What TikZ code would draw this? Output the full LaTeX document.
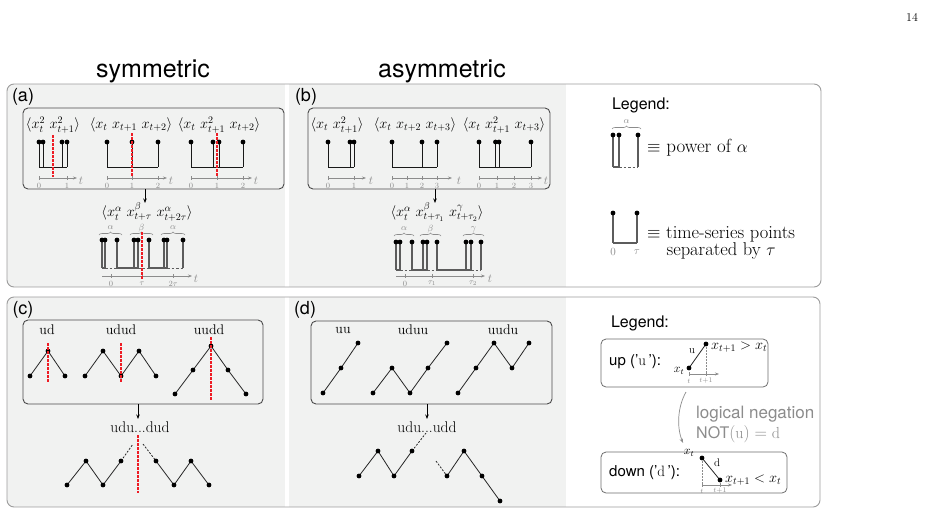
\documentclass[tikz,border=0pt]{standalone}
\usepackage{fontspec}
\setsansfont{TeX Gyre Heros}
\usetikzlibrary{decorations.pathreplacing,arrows.meta}
\definecolor{panelgrey}{HTML}{F1F2F1}
\definecolor{bordergrey}{HTML}{9C9C9C}
\definecolor{axgrey}{HTML}{8C8C8C}
\definecolor{boxdark}{HTML}{4A4A4A}
\definecolor{stkgrey}{HTML}{5C5C5C}
\definecolor{reddash}{HTML}{EE1C24}
\newcommand\fsz[1]{\fontsize{#1}{#1}\selectfont}
\newcommand\sticks[4][stk]{\foreach \sx in {#2} {\draw[#1] (\sx,#3) -- (\sx,#4); \fill (\sx,#3) circle (2.4pt);}}
\newcommand\taxis[5]{%
  \draw[ax] (#1,#3) -- (#2,#3);
  \foreach \tx/\tlab in {#4} {\draw[tmark] (\tx,#3-2) -- (\tx,#3+2); \node[tk] at (\tx,#3+7.5) {$\tlab$};}
  \node[tl] at (#5,#3+2.5) {$t$};}
\tikzset{
 stk/.style={line width=0.9pt, black!90},
 gstk/.style={line width=1.1pt, stkgrey},
 redl/.style={reddash, line width=1.2pt, dash pattern=on 2.5pt off 1.5pt},
 ax/.style={axgrey, line width=0.7pt, -{Stealth[length=4pt,width=3pt]}},
 tmark/.style={axgrey, line width=0.6pt},
 tk/.style={font=\fsz{8}, text=axgrey, inner sep=0pt},
 tl/.style={font=\fsz{12}, text=axgrey, inner sep=0pt},
 ibox/.style={draw=boxdark, line width=0.9pt, rounded corners=5pt},
 zz/.style={line width=0.8pt, black!85},
 zzd/.style={line width=0.8pt, black!85, dash pattern=on 2pt off 1.5pt},
 basedash/.style={line width=0.9pt, stkgrey, dash pattern=on 2.5pt off 2pt},
 brc/.style={decorate, decoration={brace, amplitude=3pt}, axgrey, line width=0.6pt},
 blab/.style={font=\fsz{9}, text=axgrey, inner sep=0pt},
 form/.style={font=\fsz{14}, inner sep=0pt},
 plab/.style={font=\sffamily\fsz{18}, inner sep=0pt},
 lgd/.style={font=\sffamily\fsz{16}, inner sep=0pt},
 arr/.style={line width=0.7pt, -{Stealth[length=4.5pt,width=3.5pt]}},
 wrd/.style={font=\fsz{14}, inner sep=0pt},
 ldot/.style={circle, fill=black, inner sep=0pt, minimum size=4.8pt},
}
\begin{document}
\begin{tikzpicture}[x=1pt,y=-1pt]
\useasboundingbox (0,0) rectangle (929,512);
\fill[white] (0,0) rectangle (929,512);

% page number and titles
\node[font=\fsz{12}] (pg) at (912,17) {14};
\node[font=\sffamily\fsz{25}] (tsym) at (153,71) {symmetric};
\node[font=\sffamily\fsz{25}] (tasym) at (442,71) {asymmetric};

% ---------- outer panels ----------
\begin{scope}
\clip[rounded corners=7pt] (7,84) rectangle (821,287);
\fill[panelgrey] (7,84) rectangle (285,287);
\fill[panelgrey] (289,84) rectangle (566,287);
\end{scope}
\draw[bordergrey, line width=0.9pt, rounded corners=7pt] (7,84) rectangle (821,287);
\begin{scope}
\clip[rounded corners=7pt] (7,297) rectangle (820,507);
\fill[panelgrey] (7,297) rectangle (285,507);
\fill[panelgrey] (289,297) rectangle (566,507);
\end{scope}
\draw[bordergrey, line width=0.9pt, rounded corners=7pt] (7,297) rectangle (820,507);

\node[plab] (la) at (23,97) {(a)};
\node[plab] (lb) at (306,97) {(b)};
\node[plab] (lc) at (23,310) {(c)};
\node[plab] (ld) at (305,310) {(d)};

% ---------- panel (a) ----------
\draw[ibox] (23,108) rectangle (284,189);
\node[form] (fa1) at (53,125) {$\langle x_t^2\ x_{t+1}^2\rangle$};
\node[form] (fa2) at (131,125) {$\langle x_t\ x_{t+1}\ x_{t+2}\rangle$};
\node[form] (fa3) at (219,125) {$\langle x_t\ x_{t+1}^2\ x_{t+2}\rangle$};
\sticks{39,43,62,67}{142}{167}
\draw[stk] (39,167) -- (67,167);
\taxis{39}{77}{178}{39/0,67/1}{81}
\draw[redl] (53,135) -- (53,177);
\sticks{107,132,158}{142}{167}
\draw[stk] (107,167) -- (158,167);
\taxis{107}{167}{178}{107/0,132/1,158/2}{171}
\draw[redl] (132,133) -- (132,177);
\sticks{191,213,219,243}{142}{167}
\draw[stk] (191,167) -- (243,167);
\taxis{191}{252}{178}{191/0,217/1,243/2}{256}
\draw[redl] (217,133) -- (217,177);

\coordinate (aS) at (145,189);
\coordinate (aE) at (145,203);
\draw[arr] (aS) -- (aE);
\node[form] (fa4) at (147,212) {$\langle x_t^\alpha\ x_{t+\tau}^\beta\ x_{t+2\tau}^\alpha\rangle$};
\draw[brc] (99,235) -- (122,235); \node[blab] at (110.5,228) {$\alpha$};
\draw[brc] (130,235) -- (153,235); \node[blab] at (141.5,228) {$\beta$};
\draw[brc] (161,235) -- (185,235); \node[blab] at (173,228) {$\alpha$};
\sticks[gstk]{102,105,117,134,138,149,164,167,183}{240}{268}
\draw[gstk] (102,268) -- (105,268); \draw[basedash] (105,268) -- (117,268);
\draw[gstk] (117,268) -- (138,268); \draw[basedash] (138,268) -- (149,268);
\draw[gstk] (149,268) -- (167,268); \draw[basedash] (167,268) -- (183,268);
\taxis{102}{192}{276}{111/0,142/\tau,173/2\tau}{196}
\draw[redl] (142,232) -- (142,279);

% ---------- panel (b) ----------
\draw[ibox] (308,108) rectangle (550,189);
\node[form] (fb1) at (337,125) {$\langle x_t\ x_{t+1}^2\rangle$};
\node[form] (fb2) at (415,125) {$\langle x_t\ x_{t+2}\ x_{t+3}\rangle$};
\node[form] (fb3) at (504,125) {$\langle x_t\ x_{t+1}^2\ x_{t+3}\rangle$};
\sticks{328,350,354}{142}{167}
\draw[stk] (328,167) -- (354,167);
\taxis{328}{366}{178}{328/0,354/1}{371}
\sticks{392,422,437}{142}{167}
\draw[stk] (392,167) -- (437,167);
\taxis{392}{452}{178}{392/0,407/1,422/2,437/3}{459}
\sticks{479,495.5,499,531}{142}{167}
\draw[stk] (479,167) -- (531,167);
\taxis{479}{542}{178}{479/0,497/1,514/2,531/3}{546}

\coordinate (bS) at (435,189);
\coordinate (bE) at (435,203);
\draw[arr] (bS) -- (bE);
\node[form] (fb4) at (437,212) {$\langle x_t^\alpha\ x_{t+\tau_1}^\beta\ x_{t+\tau_2}^\gamma\rangle$};
\draw[brc] (394,236) -- (414,236); \node[blab] at (404,229) {$\alpha$};
\draw[brc] (420,236) -- (441,236); \node[blab] at (430.5,229) {$\beta$};
\draw[brc] (463,236) -- (484,236); \node[blab] at (473.5,229) {$\gamma$};
\sticks[gstk]{396,400,412,423,427,437,466,471,481}{242}{270}
\draw[gstk] (396,270) -- (400,270); \draw[basedash] (400,270) -- (412,270);
\draw[gstk] (412,270) -- (427,270); \draw[basedash] (427,270) -- (437,270);
\draw[gstk] (437,270) -- (471,270); \draw[basedash] (471,270) -- (481,270);
\taxis{396}{485}{276}{405/0,432/\tau_1,473/\tau_2}{490}

% ---------- legend top ----------
\node[lgd] (lg1) at (641,105) {Legend:};
\draw[brc] (612,129) -- (641,129); \node[blab] at (626.5,121.5) {$\alpha$};
\sticks[gstk]{613,619,638}{135}{167}
\draw[gstk] (613,167) -- (619,167); \draw[basedash] (619,167) -- (638,167);
\node[font=\fsz{19}, anchor=west, inner sep=0pt] (lpow) at (647,148) {$\equiv$ power of $\alpha$};
\sticks[gstk]{613,637}{213}{243}
\draw[gstk] (613,243) -- (637,243);
\node[font=\fsz{11}, text=axgrey, inner sep=0pt] at (613,252) {$0$};
\node[font=\fsz{11}, text=axgrey, inner sep=0pt] at (637,252) {$\tau$};
\node[font=\fontsize{18.5}{15}\selectfont, align=center, anchor=west, inner sep=0pt] (lts) at (647,243) {$\equiv$ time-series points\\separated by $\tau$};

% ---------- panel (c) ----------
\draw[ibox] (23,320) rectangle (263,404);
\node[wrd] at (47,330) {ud};
\node[wrd] at (121,330) {udud};
\node[wrd] at (209,330) {uudd};
\draw[zz] (30,376) -- (48,351) -- (65,376);
\foreach \p in {(30,376),(48,351),(65,376)} \node[ldot] at \p {};
\draw[redl] (48,343) -- (48,382);
\draw[zz] (85,376) -- (103,351) -- (121,376) -- (139,351) -- (156,376);
\foreach \p in {(85,376),(103,351),(121,376),(139,351),(156,376)} \node[ldot] at \p {};
\draw[redl] (121,343) -- (121,382);
\draw[zz] (175,394) -- (193,370) -- (211,346) -- (228,370) -- (246,394);
\foreach \p in {(175,394),(193,370),(211,346),(228,370),(246,394)} \node[ldot] at \p {};
\draw[redl] (211,337) -- (211,401);

\coordinate (cS) at (138,404);
\coordinate (cE) at (138,419);
\draw[arr] (cS) -- (cE);
\node[font=\fsz{15.5}, inner sep=0pt] (fc) at (140,427) {udu...dud};
\draw[zz] (67,485) -- (86,461) -- (103,485) -- (121,461);
\draw[zzd] (121,461) -- (133,444);
\draw[zzd] (143,444) -- (156,461);
\draw[zz] (156,461) -- (174,485) -- (191,461) -- (209,485);
\foreach \p in {(67,485),(86,461),(103,485),(121,461),(156,461),(174,485),(191,461),(209,485)} \node[ldot] at \p {};
\draw[redl] (138,435) -- (138,493);

% ---------- panel (d) ----------
\draw[ibox] (311,321) rectangle (552,404);
\node[wrd] at (343,330) {uu};
\node[wrd] at (413,330) {uduu};
\node[wrd] at (503,330) {uudu};
\draw[zz] (323,393) -- (341,368) -- (358,343);
\foreach \p in {(323,393),(341,368),(358,343)} \node[ldot] at \p {};
\draw[zz] (373,393) -- (392,368) -- (410,393) -- (428,368) -- (447,343);
\foreach \p in {(373,393),(392,368),(410,393),(428,368),(447,343)} \node[ldot] at \p {};
\draw[zz] (458,393) -- (476,368) -- (494,343) -- (512,368) -- (529,343);
\foreach \p in {(458,393),(476,368),(494,343),(512,368),(529,343)} \node[ldot] at \p {};

\coordinate (dS) at (427,404);
\coordinate (dE) at (427,419);
\draw[arr] (dS) -- (dE);
\node[font=\fsz{15.5}, inner sep=0pt] (fd) at (427,427) {udu...udd};
\draw[zz] (359,476) -- (378,451) -- (394,476) -- (412,451);
\draw[zzd] (412,451) -- (426,433);
\draw[zzd] (436,461) -- (447,476);
\draw[zz] (447,476) -- (464,451) -- (482,476) -- (500,501);
\foreach \p in {(359,476),(378,451),(394,476),(412,451),(447,476),(464,451),(482,476),(500,501)} \node[ldot] at \p {};

% ---------- legend bottom ----------
\node[lgd] (lg2) at (640,323) {Legend:};
\draw[draw=boxdark!80, line width=0.8pt, rounded corners=5pt] (601,339) rectangle (768,387);
\node[font=\sffamily\fsz{15}, anchor=west, inner sep=0pt] (lup) at (609,362) {up ('\textrm{u}\,'):};
\coordinate (uA) at (689,368);
\coordinate (uB) at (706,344);
\draw[axgrey, line width=0.5pt, dash pattern=on 1.5pt off 1.5pt] (uB) -- (706,374);
\draw[ax, line width=0.6pt] (689,374) -- (719,374);
\draw[tmark] (689,372) -- (689,376); \draw[tmark] (706,372) -- (706,376);
\node[font=\fsz{7}, text=axgrey, inner sep=0pt] at (689,381) {$t$};
\node[font=\fsz{7}, text=axgrey, inner sep=0pt] at (706,381) {$t{+}1$};
\draw[zz] (uA) -- (uB);
\node[ldot] at (uA) {}; \node[ldot] at (uB) {};
\node[font=\fsz{11}, inner sep=0pt] at (692,351) {u};
\node[font=\fsz{12}, inner sep=0pt] at (679,371) {$x_t$};
\node[font=\fsz{14}, anchor=west, inner sep=0pt] at (711,347) {$x_{t+1} > x_t$};

\coordinate (nS) at (686,392);
\coordinate (nE) at (683,443);
\draw[axgrey, line width=0.7pt, -{Stealth[length=4.5pt,width=3.5pt]}] (nS) .. controls (677,408) and (677,428) .. (nE);
\node[font=\sffamily\fsz{17}, text=axgrey, anchor=west, inner sep=0pt] at (696,414) {logical negation};
\node[font=\sffamily\fsz{16}, text=axgrey, anchor=west, inner sep=0pt] at (696,434) {NOT$(\mathrm{u}) = \mathrm{d}$};

\draw[draw=boxdark!80, line width=0.8pt, rounded corners=5pt] (601,452) rectangle (787,493);
\node[font=\sffamily\fsz{15}, anchor=west, inner sep=0pt] (ldn) at (609,473) {down ('\textrm{d}\,'):};
\coordinate (dA) at (702,458);
\coordinate (dB) at (720,480);
\draw[axgrey, line width=0.5pt, dash pattern=on 1.5pt off 1.5pt] (dA) -- (702,485);
\draw[ax, line width=0.6pt] (702,485) -- (732,485);
\draw[tmark] (702,483) -- (702,487); \draw[tmark] (720,483) -- (720,487);
\node[font=\fsz{7}, text=axgrey, inner sep=0pt] at (702,491) {$t$};
\node[font=\fsz{7}, text=axgrey, inner sep=0pt] at (720,491) {$t{+}1$};
\draw[zz] (dA) -- (dB);
\node[ldot] at (dA) {}; \node[ldot] at (dB) {};
\node[font=\fsz{11}, inner sep=0pt] at (717,463) {d};
\node[font=\fsz{12}, inner sep=0pt] at (689,453) {$x_t$};
\node[font=\fsz{14}, anchor=west, inner sep=0pt] at (725,480) {$x_{t+1} < x_t$};
\end{tikzpicture}
\end{document}
